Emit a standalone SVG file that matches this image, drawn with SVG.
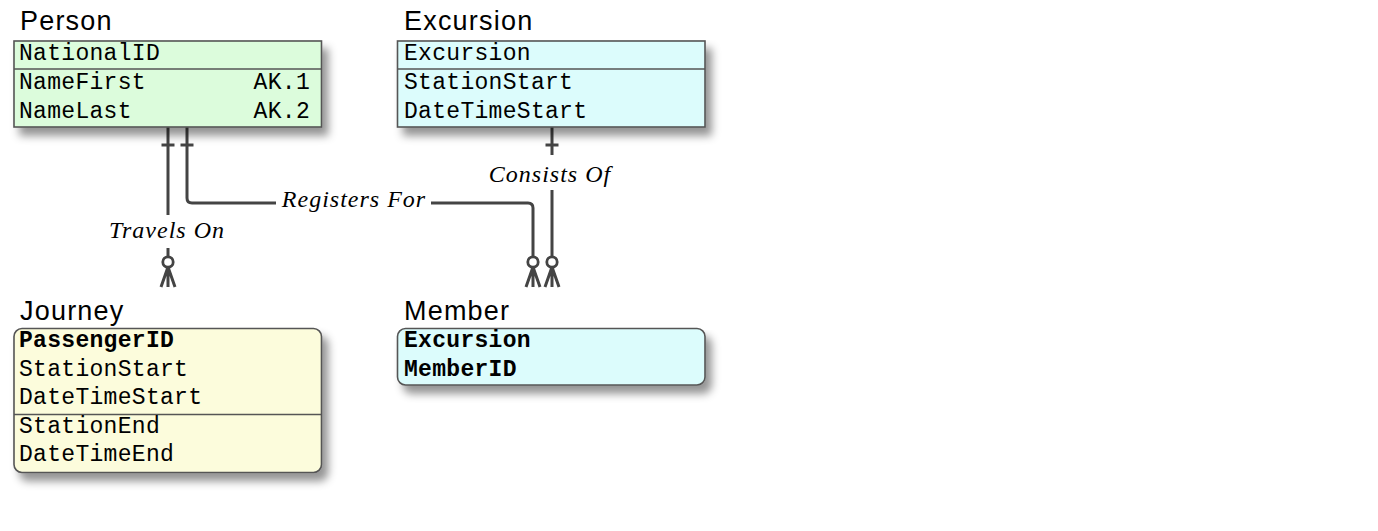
<svg xmlns="http://www.w3.org/2000/svg" width="1378" height="531" viewBox="0 0 1378 531">
<defs>
<filter id="sh" x="-10%" y="-10%" width="130%" height="150%">
<feGaussianBlur in="SourceAlpha" stdDeviation="4"/>
<feOffset dx="6" dy="8" result="b"/>
<feFlood flood-color="#000" flood-opacity="0.42"/>
<feComposite in2="b" operator="in"/>
<feMerge><feMergeNode/><feMergeNode in="SourceGraphic"/></feMerge>
</filter>
<style>
.title{font-family:"Liberation Sans",Arial,sans-serif;font-size:27px;letter-spacing:1.2px;fill:#000}
.f{font-family:"Liberation Mono","Courier New",monospace;font-size:23px;letter-spacing:0.3px;fill:#000}
.b{font-weight:bold}
.box{stroke:#555;stroke-width:1.6}
.sep{stroke:#555;stroke-width:1.6}
.lbl{font-family:"Liberation Serif","Times New Roman",serif;font-style:italic;font-size:24px;letter-spacing:1px;fill:#000;text-anchor:middle}
.c{fill:none;stroke:#444;stroke-width:3}
.ring{fill:#fff;stroke:#444;stroke-width:2.8}
</style>
</defs>
<rect width="1378" height="531" fill="#fff"/>

<g id="connectors">
<!-- Travels On -->
<path class="c" d="M168,127 V215 M168,248 V257"/>
<path class="c" d="M161.5,145 H174.5"/>
<circle class="ring" cx="168" cy="262" r="5.2"/>
<path class="c" d="M168,267 L161,287 M168,267 V287 M168,267 L175,287"/>
<text class="lbl" x="167" y="238">Travels On</text>
<!-- Registers For -->
<path class="c" d="M187,127 V198 Q187,203 192,203 H276 M431,203 H528 Q533,203 533,208 V257"/>
<path class="c" d="M180.5,145 H193.5"/>
<circle class="ring" cx="533" cy="262" r="5.2"/>
<path class="c" d="M533,267 L526,287 M533,267 V287 M533,267 L540,287"/>
<text class="lbl" x="354" y="207">Registers For</text>
<!-- Consists Of -->
<path class="c" d="M552,127 V155 M552,190 V257"/>
<path class="c" d="M545.5,145 H558.5"/>
<circle class="ring" cx="552" cy="262" r="5.2"/>
<path class="c" d="M552,267 L545,287 M552,267 V287 M552,267 L559,287"/>
<text class="lbl" x="550" y="182">Consists Of</text>
</g>

<g id="person">
<text class="title" x="20" y="30">Person</text>
<rect class="box" x="14" y="41" width="307.5" height="86" fill="#dcfcdc" filter="url(#sh)"/>
<line class="sep" x1="14" y1="69" x2="321.5" y2="69"/>
<text class="f" x="19" y="59.5">NationalID</text>
<text class="f" x="19" y="89">NameFirst</text>
<text class="f" x="19" y="117.5">NameLast</text>
<text class="f" x="310" y="89" text-anchor="end">AK.1</text>
<text class="f" x="310" y="117.5" text-anchor="end">AK.2</text>
</g>

<g id="excursion">
<text class="title" x="404" y="30">Excursion</text>
<rect class="box" x="397.5" y="41" width="307.5" height="86" fill="#dcfcfc" filter="url(#sh)"/>
<line class="sep" x1="397.5" y1="69" x2="705" y2="69"/>
<text class="f" x="404" y="59.5">Excursion</text>
<text class="f" x="404" y="89">StationStart</text>
<text class="f" x="404" y="117.5">DateTimeStart</text>
</g>

<g id="journey">
<text class="title" x="20" y="320">Journey</text>
<rect class="box" x="14" y="328.5" width="307.5" height="144" rx="8" fill="#fcfcdc" filter="url(#sh)"/>
<line class="sep" x1="14" y1="414.5" x2="321.5" y2="414.5"/>
<text class="f b" x="19" y="347">PassengerID</text>
<text class="f" x="19" y="375.5">StationStart</text>
<text class="f" x="19" y="404">DateTimeStart</text>
<text class="f" x="19" y="432.5">StationEnd</text>
<text class="f" x="19" y="461">DateTimeEnd</text>
</g>

<g id="member">
<text class="title" x="404" y="320">Member</text>
<rect class="box" x="397.5" y="328.5" width="307.5" height="56.5" rx="8" fill="#dcfcfc" filter="url(#sh)"/>
<text class="f b" x="404" y="347">Excursion</text>
<text class="f b" x="404" y="375.5">MemberID</text>
</g>
</svg>
